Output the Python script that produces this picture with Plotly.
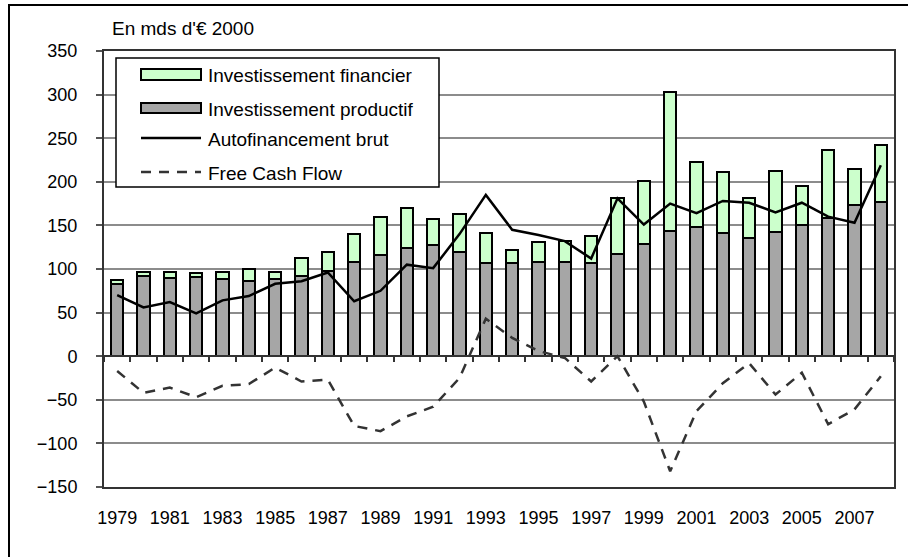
import plotly.graph_objects as go

years = [str(y) for y in range(1979, 2009)]
tick_years = [str(y) for y in range(1979, 2009, 2)]

invest_productif = [83, 92, 90, 91, 88, 86, 89, 92, 98, 108, 116, 124, 127, 119, 107,
                    107, 108, 108, 107, 117, 129, 144, 148, 141, 136, 143, 151, 159, 173, 177]
invest_financier = [4, 5, 7, 4, 9, 14, 8, 21, 22, 32, 44, 46, 30, 44, 34,
                    15, 23, 24, 31, 65, 72, 159, 75, 70, 46, 69, 44, 77, 42, 65]
autofinancement = [70, 56, 62, 49, 64, 69, 83, 86, 96, 63, 75, 105, 101, 140, 185,
                   145, 139, 132, 112, 181, 151, 175, 164, 178, 176, 165, 176, 160, 153, 219]
free_cash_flow = [-17, -42, -36, -47, -34, -32, -13, -29, -27, -80, -86, -69, -58, -25, 43,
                  21, 6, -2, -29, 0, -52, -132, -63, -31, -8, -44, -19, -78, -61, -23]

names = ["Investissement financier", "Investissement productif",
         "Autofinancement brut", "Free Cash Flow"]

FONT = "Liberation Sans, Arial, sans-serif"
FS = 18
FS_TXT = 19
W, H = 908, 557
PL, PR, PT, PB = 104, 894, 51, 487  # plot area in pixels


def px(x):
    return (x - PL) / (PR - PL)


def py(y):
    return (PB - y) / (PB - PT)


fig = go.Figure()
fig.add_trace(go.Bar(x=years, y=invest_productif, name=names[1], width=0.48,
                     marker=dict(color="#a6a6a6", line=dict(color="black", width=2)),
                     showlegend=False))
fig.add_trace(go.Bar(x=years, y=invest_financier, name=names[0], width=0.48,
                     marker=dict(color="#ccffcc", line=dict(color="black", width=2)),
                     showlegend=False))
fig.add_trace(go.Scatter(x=years, y=autofinancement, name=names[2], mode="lines",
                         line=dict(color="black", width=2.5), showlegend=False))
fig.add_trace(go.Scatter(x=years, y=free_cash_flow, name=names[3], mode="lines",
                         xaxis="x2",
                         line=dict(color="#333333", width=2.5, dash="10px,8px"),
                         showlegend=False))

shapes = []
annotations = []
# outer frame
shapes.append(dict(type="rect", xref="paper", yref="paper",
                   x0=px(9), x1=px(930), y0=py(580), y1=py(5),
                   line=dict(color="black", width=2), fillcolor="rgba(0,0,0,0)"))
# legend box
shapes.append(dict(type="rect", xref="paper", yref="paper",
                   x0=px(116), x1=px(439), y0=py(187), y1=py(58),
                   line=dict(color="black", width=1.5), fillcolor="white"))
rows = [74.5, 108, 138, 172]
shapes.append(dict(type="rect", xref="paper", yref="paper",
                   x0=px(141), x1=px(201), y0=py(80), y1=py(69),
                   line=dict(color="black", width=2), fillcolor="#ccffcc"))
shapes.append(dict(type="rect", xref="paper", yref="paper",
                   x0=px(141), x1=px(201), y0=py(113), y1=py(103),
                   line=dict(color="black", width=2), fillcolor="#a6a6a6"))
shapes.append(dict(type="line", xref="paper", yref="paper",
                   x0=px(141), x1=px(201), y0=py(rows[2]), y1=py(rows[2]),
                   line=dict(color="black", width=2.5)))
shapes.append(dict(type="line", xref="paper", yref="paper",
                   x0=px(141), x1=px(201), y0=py(rows[3]), y1=py(rows[3]),
                   line=dict(color="#333333", width=2.5, dash="10px,8px")))
for name, r in zip(names, rows):
    annotations.append(dict(text=name, xref="paper", yref="paper", x=px(206), y=py(r + 1),
                            xanchor="left", yanchor="middle", showarrow=False,
                            font=dict(family=FONT, size=FS_TXT, color="black")))
annotations.append(dict(text="En mds d'€ 2000", xref="paper", yref="paper",
                        x=px(110), y=py(28), xanchor="left", yanchor="middle",
                        showarrow=False, font=dict(family=FONT, size=FS_TXT, color="black")))

fig.update_layout(
    width=W, height=H,
    margin=dict(l=PL, r=W - PR, t=PT, b=H - PB),
    paper_bgcolor="white", plot_bgcolor="white",
    barmode="stack", bargap=0.5,
    font=dict(family=FONT, size=FS, color="black"),
    shapes=shapes, annotations=annotations,
    xaxis=dict(type="category", categoryorder="array", categoryarray=years,
               range=[-0.5, 29.5], tickmode="array", tickvals=tick_years,
               ticktext=tick_years, ticks="", ticklabelstandoff=13,
               showline=True, mirror=True, linecolor="#333333", linewidth=2,
               showgrid=False, zeroline=False,
               tickfont=dict(family=FONT, size=FS, color="black")),
    xaxis2=dict(type="category", categoryorder="array", categoryarray=years,
                range=[-0.5, 29.5], overlaying="x", anchor="free", position=0.3,
                side="bottom", showticklabels=False, ticks="outside",
                tickson="boundaries", ticklen=5, tickwidth=1.5, tickcolor="#333333",
                showline=True, linecolor="#333333", linewidth=2,
                showgrid=False, zeroline=False),
    yaxis=dict(range=[-150, 350], dtick=50, tick0=0, ticks="outside", ticklen=6,
               tickwidth=1.5, tickcolor="#555555", ticklabelstandoff=15,
               showgrid=True, gridcolor="#8c8c8c", gridwidth=1.5,
               zeroline=False, showline=True, mirror=True,
               linecolor="#333333", linewidth=2,
               tickfont=dict(family=FONT, size=FS, color="black")),
)

fig.write_html("out.html", config={"displayModeBar": False},
               post_script="document.body.style.margin='0';")
